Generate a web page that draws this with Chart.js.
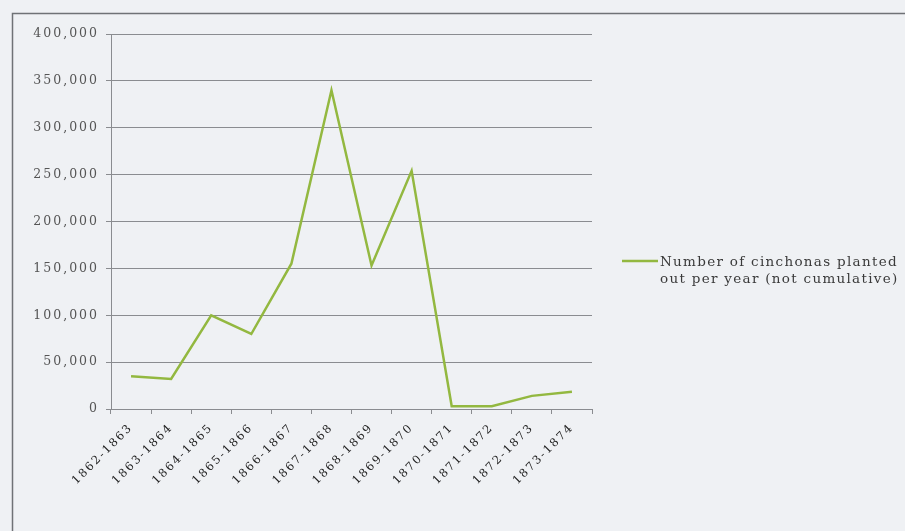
<!DOCTYPE html>
<html lang="en">
<head>
    <meta charset="UTF-8">
    <title>Cinchonas planted out per year</title>
    <style>
        html, body { margin: 0; padding: 0; background: #eff1f4; }
        .wrap { width: 905px; height: 531px; }
    </style>
    <script src="https://cdn.jsdelivr.net/npm/chart.js"></script>
</head>
<body>
  <div class="wrap">
    <canvas id="plantChart" width="905" height="531"></canvas>
  </div>
  <script>
    // seasons on the x axis
    const seasons = ['1862-1863', '1863-1864', '1864-1865', '1865-1866', '1866-1867', '1867-1868',
                     '1868-1869', '1869-1870', '1870-1871', '1871-1872', '1872-1873', '1873-1874'];
    // trees planted out in each season
    const planted = [35000, 32000, 100000, 80000, 155000, 340000,
                     153000, 254000, 3000, 3000, 14000, 18500];
    const seriesName = ['Number of cinchonas planted', 'out per year (not cumulative)'];
    const yMin = 0, yMax = 400000, yStep = 50000;

    const lineColor = '#93b840';
    const serif = '"DejaVu Serif", "Liberation Serif", serif';

    // page background and the frame round the chart
    const framePlugin = {
        id: 'framePlugin',
        beforeDraw(chart) {
            const ctx = chart.ctx;
            ctx.save();
            ctx.fillStyle = '#eff1f4';
            ctx.fillRect(0, 0, chart.width, chart.height);
            ctx.strokeStyle = '#6f7276';
            ctx.lineWidth = 1.5;
            ctx.strokeRect(12.5, 13.5, chart.width + 20, chart.height + 20);
            ctx.restore();
            // the scanned labels are widely spaced
            ctx.letterSpacing = '2px';
        }
    };

    // legend on the right, two lines of text
    const sideLegend = {
        id: 'sideLegend',
        afterDraw(chart) {
            const ctx = chart.ctx;
            const x = chart.chartArea.right + 30;
            const y = 261;
            ctx.save();
            ctx.strokeStyle = lineColor;
            ctx.lineWidth = 2.5;
            ctx.beginPath();
            ctx.moveTo(x, y);
            ctx.lineTo(x + 36, y);
            ctx.stroke();
            ctx.fillStyle = '#3a3a3a';
            ctx.font = '13.5px ' + serif;
            ctx.letterSpacing = '1.3px';
            ctx.textBaseline = 'middle';
            ctx.fillText(seriesName[0], x + 38, y + 1);
            ctx.fillText(seriesName[1], x + 38, y + 18);
            ctx.restore();
            ctx.letterSpacing = '0px';
        }
    };

    new Chart(document.getElementById('plantChart'), {
        type: 'line',
        data: {
            labels: seasons,
            datasets: [{
                label: seriesName.join(' '),
                data: planted,
                borderColor: lineColor,
                borderWidth: 2.5,
                pointRadius: 0,
                tension: 0,
                fill: false
            }]
        },
        options: {
            responsive: false,
            animation: false,
            layout: { padding: { top: 34, right: 313, bottom: 0, left: 0 } },
            plugins: {
                legend: { display: false },
                tooltip: { enabled: false }
            },
            scales: {
                x: {
                    offset: true,
                    grid: {
                        offset: true,
                        drawOnChartArea: false,
                        drawTicks: true,
                        tickLength: 5,
                        color: '#8a8c90'
                    },
                    border: { color: '#8a8c90', width: 1 },
                    ticks: {
                        minRotation: 45,
                        maxRotation: 45,
                        color: '#222',
                        font: { family: serif, size: 11.5 },
                        padding: 7
                    },
                    afterFit(scale) { scale.height = 122; }
                },
                y: {
                    min: yMin,
                    max: yMax,
                    grid: {
                        color: '#8a8c90',
                        lineWidth: 1,
                        tickLength: 5
                    },
                    border: { color: '#8a8c90', width: 1 },
                    ticks: {
                        stepSize: yStep,
                        color: '#555',
                        padding: 7,
                        font: { family: serif, size: 12.5 },
                        callback: v => v.toLocaleString('en-US')
                    },
                    afterFit(scale) { scale.width = 111; }
                }
            }
        },
        plugins: [framePlugin, sideLegend]
    });
  </script>
</body>
</html>
